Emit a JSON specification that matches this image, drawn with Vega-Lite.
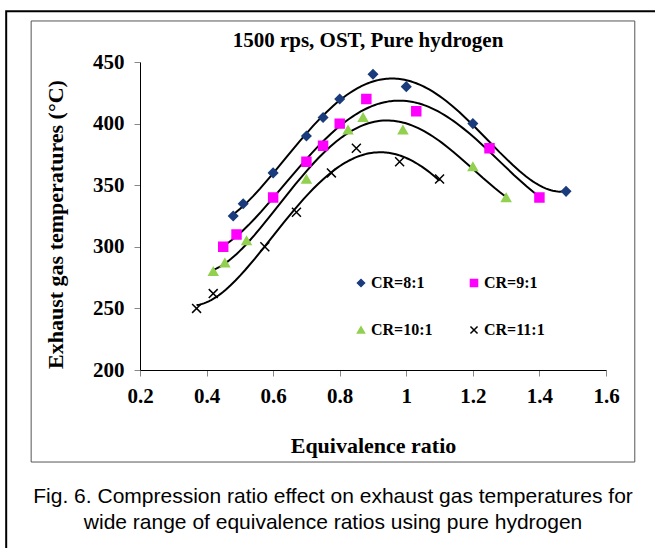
{
  "$schema": "https://vega.github.io/schema/vega-lite/v6.json",
  "width": 466,
  "height": 308,
  "autosize": {"type": "none"},
  "padding": {"left": 140, "top": 62, "right": 49, "bottom": 178},
  "background": "white",
  "datasets": {
    "pts": [
      {"CR": "CR=8:1", "phi": 0.48, "T": 325},
      {"CR": "CR=8:1", "phi": 0.51, "T": 335},
      {"CR": "CR=8:1", "phi": 0.60, "T": 360},
      {"CR": "CR=8:1", "phi": 0.70, "T": 390},
      {"CR": "CR=8:1", "phi": 0.75, "T": 405},
      {"CR": "CR=8:1", "phi": 0.80, "T": 420},
      {"CR": "CR=8:1", "phi": 0.90, "T": 440},
      {"CR": "CR=8:1", "phi": 1.00, "T": 430},
      {"CR": "CR=8:1", "phi": 1.20, "T": 400},
      {"CR": "CR=8:1", "phi": 1.48, "T": 345},
      {"CR": "CR=9:1", "phi": 0.45, "T": 300},
      {"CR": "CR=9:1", "phi": 0.49, "T": 310},
      {"CR": "CR=9:1", "phi": 0.60, "T": 340},
      {"CR": "CR=9:1", "phi": 0.70, "T": 369},
      {"CR": "CR=9:1", "phi": 0.75, "T": 382},
      {"CR": "CR=9:1", "phi": 0.80, "T": 400},
      {"CR": "CR=9:1", "phi": 0.88, "T": 420},
      {"CR": "CR=9:1", "phi": 1.03, "T": 410},
      {"CR": "CR=9:1", "phi": 1.25, "T": 380},
      {"CR": "CR=9:1", "phi": 1.40, "T": 340},
      {"CR": "CR=10:1", "phi": 0.42, "T": 280},
      {"CR": "CR=10:1", "phi": 0.455, "T": 287},
      {"CR": "CR=10:1", "phi": 0.52, "T": 305},
      {"CR": "CR=10:1", "phi": 0.70, "T": 355},
      {"CR": "CR=10:1", "phi": 0.825, "T": 395},
      {"CR": "CR=10:1", "phi": 0.87, "T": 405},
      {"CR": "CR=10:1", "phi": 0.99, "T": 395},
      {"CR": "CR=10:1", "phi": 1.20, "T": 365},
      {"CR": "CR=10:1", "phi": 1.30, "T": 340},
      {"CR": "CR=11:1", "phi": 0.37, "T": 250},
      {"CR": "CR=11:1", "phi": 0.42, "T": 262},
      {"CR": "CR=11:1", "phi": 0.575, "T": 300},
      {"CR": "CR=11:1", "phi": 0.67, "T": 328},
      {"CR": "CR=11:1", "phi": 0.775, "T": 360},
      {"CR": "CR=11:1", "phi": 0.85, "T": 380},
      {"CR": "CR=11:1", "phi": 0.98, "T": 369},
      {"CR": "CR=11:1", "phi": 1.10, "T": 355}
    ]
  },
  "layer": [
    {
      "data": {"values": [{}]},
      "mark": {"type": "rect", "fill": null, "fillOpacity": 0, "stroke": "black", "strokeWidth": 2},
      "encoding": {
        "x": {"datum": -0.202, "type": "quantitative", "scale": {"domain": [0.2, 1.6], "nice": false, "zero": false}},
        "x2": {"datum": 1.78},
        "y": {"datum": 491.2, "type": "quantitative", "scale": {"domain": [200, 450], "nice": false, "zero": false}},
        "y2": {"datum": 40}
      }
    },
    {
      "data": {"values": [{}]},
      "mark": {"type": "rect", "fill": null, "fillOpacity": 0, "stroke": "#555555", "strokeWidth": 1},
      "encoding": {
        "x": {"datum": -0.127, "type": "quantitative"},
        "x2": {"datum": 1.6865},
        "y": {"datum": 483.3, "type": "quantitative"},
        "y2": {"datum": 125.3}
      }
    },
    {
      "data": {"values": [{}]},
      "mark": {"type": "text", "font": "Liberation Serif", "fontSize": 21, "fontWeight": "bold", "color": "black", "align": "center", "baseline": "alphabetic"},
      "encoding": {
        "x": {"datum": 0.885, "type": "quantitative"},
        "y": {"datum": 461.9, "type": "quantitative"},
        "text": {"value": "1500 rps, OST, Pure hydrogen"}
      }
    },
    {
      "data": {"values": [{}]},
      "mark": {"type": "text", "font": "Liberation Sans", "fontSize": 21, "color": "black", "align": "center", "baseline": "alphabetic", "lineHeight": 26},
      "encoding": {
        "x": {"datum": 0.78, "type": "quantitative"},
        "y": {"datum": 92.3, "type": "quantitative"},
        "text": {"value": ["Fig. 6. Compression ratio effect on exhaust gas temperatures for", "wide range of equivalence ratios using pure hydrogen"]}
      }
    },
    {
      "data": {"name": "pts"},
      "transform": [
        {"regression": "T", "on": "phi", "groupby": ["CR"], "method": "poly", "order": 4}
      ],
      "mark": {"type": "line", "color": "black", "strokeWidth": 2},
      "encoding": {
        "x": {"field": "phi", "type": "quantitative"},
        "y": {"field": "T", "type": "quantitative"},
        "detail": {"field": "CR"}
      }
    },
    {
      "data": {"name": "pts"},
      "mark": {"type": "point", "opacity": 1, "strokeWidth": 1.5, "size": 80},
      "encoding": {
        "x": {
          "field": "phi", "type": "quantitative",
          "axis": {"title": "Equivalence ratio", "values": [0.2, 0.4, 0.6, 0.8, 1, 1.2, 1.4, 1.6], "format": "~g", "labelPadding": 9, "titlePadding": 29, "labelFlush": false, "titleFontSize": 22}
        },
        "y": {
          "field": "T", "type": "quantitative",
          "axis": {"title": "Exhaust  gas temperatures (°C)", "values": [200, 250, 300, 350, 400, 450], "format": "d", "labelPadding": 10, "titlePadding": 25, "titleY": 162, "labelFlush": false, "titleFontSize": 22}
        },
        "fill": {
          "field": "CR", "type": "nominal",
          "scale": {"domain": ["CR=8:1", "CR=9:1", "CR=10:1", "CR=11:1"], "range": ["#1A3C7C", "#FF00FF", "#92D050", "black"]},
          "legend": {"title": null}
        },
        "stroke": {
          "field": "CR", "type": "nominal",
          "scale": {"domain": ["CR=8:1", "CR=9:1", "CR=10:1", "CR=11:1"], "range": ["#1A3C7C", "#FF00FF", "#92D050", "black"]},
          "legend": {"title": null}
        },
        "shape": {
          "field": "CR", "type": "nominal",
          "scale": {"domain": ["CR=8:1", "CR=9:1", "CR=10:1", "CR=11:1"], "range": ["diamond", "square", "triangle-up", "M-1,-1L1,1M-1,1L1,-1"]},
          "legend": {"title": null}
        }
      }
    }
  ],
  "config": {
    "view": {"stroke": null},
    "axis": {
      "grid": false,
      "domainColor": "black",
      "domainWidth": 1,
      "tickColor": "#888888",
      "tickSize": 6,
      "tickWidth": 1,
      "labelFont": "Liberation Serif",
      "labelFontSize": 21,
      "labelFontWeight": "bold",
      "labelColor": "black",
      "titleFont": "Liberation Serif",
      "titleFontSize": 22,
      "titleFontWeight": "bold",
      "titleColor": "black"
    },
    "legend": {
      "orient": "none",
      "direction": "horizontal",
      "legendX": 213,
      "legendY": 213,
      "columns": 2,
      "columnPadding": 33,
      "rowPadding": 31,
      "padding": 0,
      "labelFont": "Liberation Serif",
      "labelFontSize": 16,
      "labelFontWeight": "bold",
      "labelColor": "black",
      "labelOffset": 2,
      "symbolSize": 50,
      "symbolStrokeWidth": 1.5
    }
  }
}
